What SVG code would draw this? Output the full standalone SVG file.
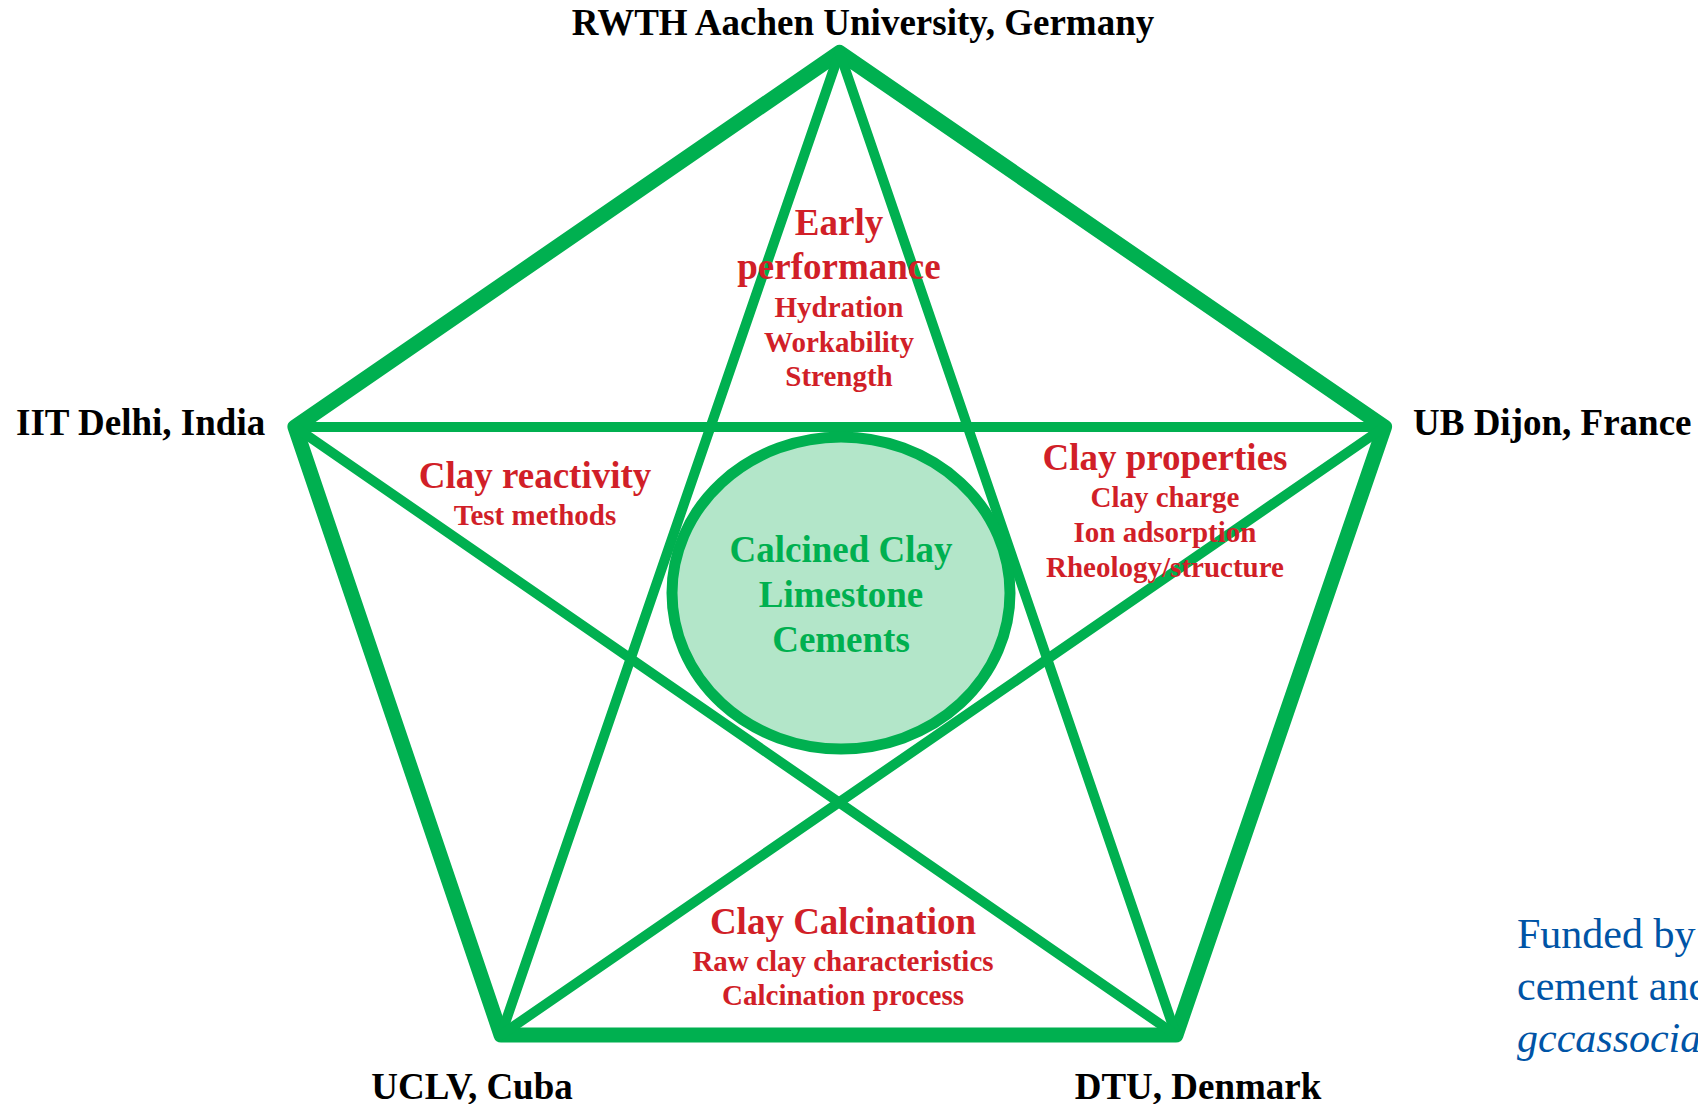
<svg xmlns="http://www.w3.org/2000/svg" width="1698" height="1104" viewBox="0 0 1698 1104">
<style>
.lbl{font-family:"Liberation Serif","Times New Roman",serif;font-weight:bold;font-size:37px;fill:#000;}
.red{font-family:"Liberation Serif","Times New Roman",serif;font-weight:bold;fill:#d11f28;text-anchor:middle;}
.big{font-size:37px;}
.small{font-size:29px;}
.ctr{font-family:"Liberation Serif","Times New Roman",serif;font-weight:bold;font-size:37px;fill:#00b050;text-anchor:middle;}
.fund{font-family:"Liberation Serif","Times New Roman",serif;font-size:42px;fill:#0054a6;}
.outer{fill:none;stroke:#00b050;stroke-width:15;stroke-linejoin:round;}
.star{fill:none;stroke:#00b050;stroke-width:10;stroke-linecap:round;}
</style>
<rect width="1698" height="1104" fill="#fff"/>
<g id="connectors">
<polygon class="outer" points="839.5,52.5 1384.5,427 1176,1035 501,1035 295,427"/>
<line class="star" x1="839.5" y1="52.5" x2="501" y2="1035"/>
<line class="star" x1="839.5" y1="52.5" x2="1176" y2="1035"/>
<line class="star" x1="295" y1="427" x2="1384.5" y2="427"/>
<line class="star" x1="295" y1="427" x2="1176" y2="1035"/>
<line class="star" x1="1384.5" y1="427" x2="501" y2="1035"/>
</g>
<g id="center">
<ellipse cx="841" cy="593" rx="169" ry="156" fill="#b3e6c9" stroke="#00b050" stroke-width="11"/>
<text class="ctr" x="841" y="562">Calcined Clay</text>
<text class="ctr" x="841" y="607">Limestone</text>
<text class="ctr" x="841" y="652">Cements</text>
</g>
<g id="rwth"><text class="lbl" x="863" y="35" text-anchor="middle">RWTH Aachen University, Germany</text></g>
<g id="iit"><text class="lbl" x="16" y="435">IIT Delhi, India</text></g>
<g id="ub"><text class="lbl" x="1413" y="435">UB Dijon, France</text></g>
<g id="uclv"><text class="lbl" x="472" y="1099" text-anchor="middle">UCLV, Cuba</text></g>
<g id="dtu"><text class="lbl" x="1198" y="1099" text-anchor="middle">DTU, Denmark</text></g>
<g id="early">
<text class="red big" x="839" y="235">Early</text>
<text class="red big" x="839" y="279">performance</text>
<text class="red small" x="839" y="317">Hydration</text>
<text class="red small" x="839" y="352">Workability</text>
<text class="red small" x="839" y="386">Strength</text>
</g>
<g id="reactivity">
<text class="red big" x="535" y="488">Clay reactivity</text>
<text class="red small" x="535" y="525">Test methods</text>
</g>
<g id="properties">
<text class="red big" x="1165" y="470">Clay properties</text>
<text class="red small" x="1165" y="507">Clay charge</text>
<text class="red small" x="1165" y="542">Ion adsorption</text>
<text class="red small" x="1165" y="577">Rheology/structure</text>
</g>
<g id="calcination">
<text class="red big" x="843" y="934">Clay Calcination</text>
<text class="red small" x="843" y="971">Raw clay characteristics</text>
<text class="red small" x="843" y="1005">Calcination process</text>
</g>
<g id="funding">
<text class="fund" x="1517" y="948">Funded by</text>
<text class="fund" x="1517" y="1000">cement and</text>
<text class="fund" x="1517" y="1052" font-style="italic">gccassocia</text>
</g>
</svg>
